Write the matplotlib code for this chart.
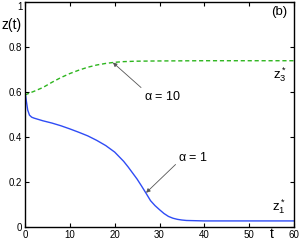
import matplotlib
matplotlib.use("Agg")
import matplotlib.pyplot as plt
from matplotlib.transforms import ScaledTranslation

plt.rcParams['font.family'] = ['Liberation Sans', 'DejaVu Sans']
plt.rcParams['mathtext.fontset'] = 'custom'
plt.rcParams['mathtext.rm'] = 'Liberation Sans'
plt.rcParams['mathtext.it'] = 'Liberation Sans'

# alpha = 1 (blue, solid)
t_a1 = [0, 0.3, 0.6, 1, 1.5, 2, 3, 4, 6, 8, 10, 12, 14, 16, 18, 20, 22, 23,
        24, 25, 26, 27, 28, 29, 30, 31, 32, 33, 34, 35, 36, 38, 40, 45, 50, 55, 60]
z_a1 = [0.604, 0.56, 0.52, 0.497, 0.488, 0.484, 0.478, 0.472, 0.462, 0.450,
        0.436, 0.421, 0.405, 0.385, 0.362, 0.333, 0.292, 0.267, 0.240, 0.213,
        0.182, 0.150, 0.117, 0.095, 0.077, 0.060, 0.047, 0.039, 0.034, 0.031,
        0.029, 0.028, 0.027, 0.027, 0.027, 0.027, 0.027]

# alpha = 10 (green, dashed)
t_a10 = [0, 1, 2, 4, 6, 8, 10, 12, 14, 16, 18, 20, 22, 25, 30, 40, 50, 60]
z_a10 = [0.587, 0.595, 0.603, 0.620, 0.643, 0.664, 0.682, 0.697, 0.710,
         0.720, 0.727, 0.732, 0.735, 0.737, 0.738, 0.739, 0.739, 0.739]

x_ticks = [0, 10, 20, 30, 40, 50, 60]
y_ticks = [0, 0.2, 0.4, 0.6, 0.8, 1]
y_labels = ['0', '0.2', '0.4', '0.6', '0.8', '1']

fig = plt.figure(figsize=(3.0, 2.44), dpi=100)
ax = fig.add_axes([25 / 300, 17 / 244, 269 / 300, 225 / 244])

ax.plot(t_a1, z_a1, color='#2f4cf5', lw=1.0)
ax.plot(t_a10, z_a10, color='#2db51e', lw=1.0, ls=(0, (3, 2)))

ax.set_xlim(0, 60)
ax.set_ylim(0, 1)
ax.set_xticks(x_ticks)
ax.set_yticks(y_ticks)
ax.set_yticklabels(y_labels)
ax.tick_params(direction='in', length=3, width=0.8, labelsize=7, pad=2,
               top=True, right=True, colors='black')
for s in ax.spines.values():
    s.set_linewidth(1.0)

# top y label sits right at the figure edge; nudge it down a little
top_lab = ax.get_yticklabels()[-1]
top_lab.set_transform(top_lab.get_transform() +
                      ScaledTranslation(0, -3 / 72, fig.dpi_scale_trans))

ax.annotate(r'$\alpha$ = 10', xy=(19.6, 0.731), xytext=(26.5, 0.58),
            fontsize=9, ha='left', va='center',
            arrowprops=dict(arrowstyle='-|>', color='#555555', lw=0.6,
                            mutation_scale=6, shrinkA=0, shrinkB=0,
                            relpos=(0.0, 1.0)))
ax.annotate(r'$\alpha$ = 1', xy=(27.0, 0.152), xytext=(34.2, 0.307),
            fontsize=9, ha='left', va='center',
            arrowprops=dict(arrowstyle='-|>', color='#555555', lw=0.6,
                            mutation_scale=6, shrinkA=0, shrinkB=0,
                            relpos=(0.0, 0.2)))

ax.text(58.5, 0.955, '(b)', fontsize=9.5, ha='right', va='center')
ax.text(57.0, 0.675, r'$z^*_3$', fontsize=9.5, ha='center', va='center')
ax.text(56.6, 0.09, r'$z^*_1$', fontsize=9.5, ha='center', va='center')
fig.text(272 / 300, 1 - 234 / 244, 't', fontsize=10, ha='center', va='center')
fig.text(2 / 300, 1 - 25 / 244, 'z(t)', fontsize=10, ha='left', va='center')

fig.savefig('out.png', dpi=100)
